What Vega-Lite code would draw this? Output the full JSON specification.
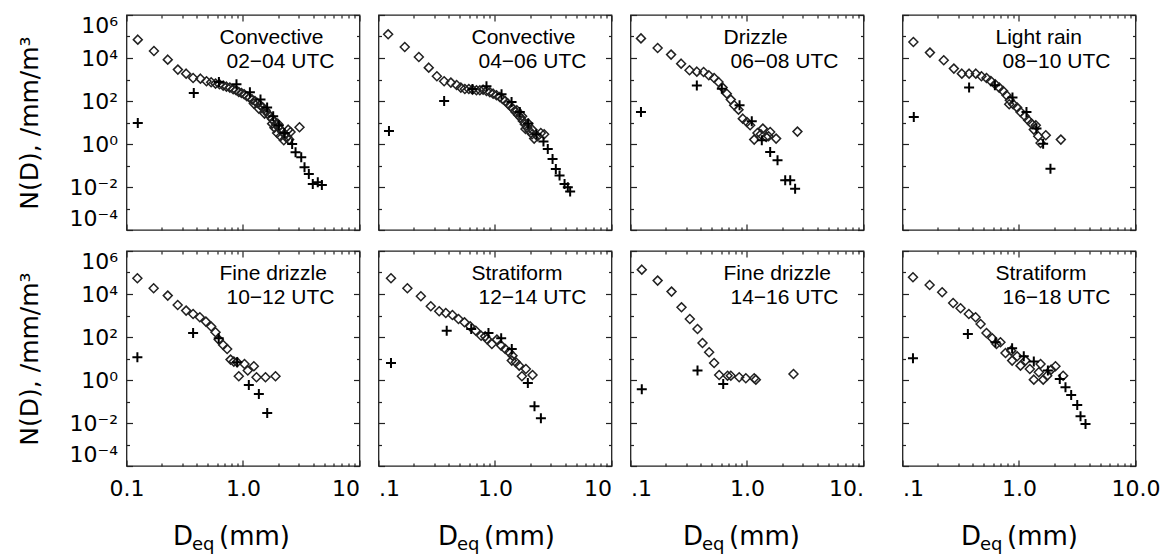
{
"$schema": "https://vega.github.io/schema/vega-lite/v6.json",
"padding": {"left": 15.5, "top": 13, "right": 2, "bottom": 2},
"config": {
  "font": "Liberation Sans",
  "view": {"stroke": "#222", "strokeWidth": 1.3},
  "axis": {"domain": false, "grid": false, "tickColor": "#222", "tickWidth": 1.2, "labelColor": "#000", "titleColor": "#000", "labelFont": "DejaVu Sans", "titleFont": "DejaVu Sans", "titleFontWeight": "normal", "labelOverlap": false}
},
"datasets": {"pts": [
{"panel":1,"type":"d","deq":0.125,"nd":71400},{"panel":1,"type":"d","deq":0.172,"nd":21200},{"panel":1,"type":"d","deq":0.226,"nd":8390},{"panel":1,"type":"d","deq":0.276,"nd":2880},{"panel":1,"type":"d","deq":0.325,"nd":1875},{"panel":1,"type":"d","deq":0.373,"nd":1178},{"panel":1,"type":"d","deq":0.431,"nd":1096},{"panel":1,"type":"d","deq":0.486,"nd":824},{"panel":1,"type":"d","deq":0.533,"nd":741},{"panel":1,"type":"d","deq":0.581,"nd":643},{"panel":1,"type":"d","deq":0.628,"nd":598},{"panel":1,"type":"d","deq":0.676,"nd":519},{"panel":1,"type":"d","deq":0.721,"nd":466},{"panel":1,"type":"d","deq":0.771,"nd":419},{"panel":1,"type":"d","deq":0.824,"nd":350},{"panel":1,"type":"d","deq":0.873,"nd":315},{"panel":1,"type":"d","deq":0.92,"nd":263},{"panel":1,"type":"d","deq":0.97,"nd":237},{"panel":1,"type":"d","deq":1.023,"nd":205},{"panel":1,"type":"d","deq":1.079,"nd":166},{"panel":1,"type":"d","deq":1.138,"nd":144},{"panel":1,"type":"d","deq":1.199,"nd":116},{"panel":1,"type":"d","deq":1.265,"nd":100},{"panel":1,"type":"d","deq":1.33,"nd":81},{"panel":1,"type":"d","deq":1.403,"nd":65.5},{"panel":1,"type":"d","deq":1.479,"nd":49.2},{"panel":1,"type":"d","deq":1.56,"nd":37},{"panel":1,"type":"d","deq":1.633,"nd":25.9},{"panel":1,"type":"d","deq":1.698,"nd":19.5},{"panel":1,"type":"d","deq":1.778,"nd":14.6},{"panel":1,"type":"d","deq":1.854,"nd":11},{"panel":1,"type":"d","deq":1.928,"nd":8.24},{"panel":1,"type":"d","deq":2.004,"nd":6.19},{"panel":1,"type":"d","deq":2.084,"nd":4.83},{"panel":1,"type":"d","deq":2.183,"nd":3.63},{"panel":1,"type":"d","deq":2.286,"nd":2.82},{"panel":1,"type":"d","deq":2.393,"nd":2.12},{"panel":1,"type":"d","deq":2.489,"nd":1.6},{"panel":1,"type":"d","deq":2.559,"nd":3.63},{"panel":1,"type":"d","deq":1.862,"nd":5.77},{"panel":1,"type":"d","deq":1.963,"nd":3.26},{"panel":1,"type":"d","deq":2.099,"nd":2.28},{"panel":1,"type":"d","deq":2.239,"nd":1.49},{"panel":1,"type":"d","deq":2.36,"nd":1.98},{"panel":1,"type":"d","deq":1.778,"nd":8.85},{"panel":1,"type":"d","deq":1.531,"nd":25.9},{"panel":1,"type":"d","deq":1.368,"nd":44.2},{"panel":1,"type":"d","deq":1.239,"nd":75.5},{"panel":1,"type":"d","deq":3.055,"nd":5.98},{"panel":1,"type":"d","deq":2.443,"nd":4.66},{"panel":1,"type":"d","deq":1.991,"nd":8.85},
{"panel":1,"type":"c","deq":0.125,"nd":9.51},{"panel":1,"type":"c","deq":0.378,"nd":237},{"panel":1,"type":"c","deq":0.621,"nd":769},{"panel":1,"type":"c","deq":0.879,"nd":598},{"panel":1,"type":"c","deq":1.146,"nd":254},{"panel":1,"type":"c","deq":1.413,"nd":116},{"panel":1,"type":"c","deq":1.611,"nd":49.2},{"panel":1,"type":"c","deq":1.816,"nd":19.5},{"panel":1,"type":"c","deq":2.032,"nd":7.41},{"panel":1,"type":"c","deq":2.27,"nd":3.26},{"panel":1,"type":"c","deq":2.642,"nd":1.0},{"panel":1,"type":"c","deq":2.825,"nd":0.411},{"panel":1,"type":"c","deq":3.162,"nd":0.24},{"panel":1,"type":"c","deq":3.373,"nd":0.0832},{"panel":1,"type":"c","deq":3.673,"nd":0.0403},{"panel":1,"type":"c","deq":3.972,"nd":0.0138},{"panel":1,"type":"c","deq":4.385,"nd":0.0166},{"panel":1,"type":"c","deq":4.753,"nd":0.0123},
{"panel":2,"type":"d","deq":0.121,"nd":126000},{"panel":2,"type":"d","deq":0.168,"nd":32700},{"panel":2,"type":"d","deq":0.222,"nd":11100},{"panel":2,"type":"d","deq":0.27,"nd":3565},{"panel":2,"type":"d","deq":0.317,"nd":1409},{"panel":2,"type":"d","deq":0.366,"nd":824},{"panel":2,"type":"d","deq":0.418,"nd":716},{"panel":2,"type":"d","deq":0.468,"nd":557},{"panel":2,"type":"d","deq":0.509,"nd":419},{"panel":2,"type":"d","deq":0.551,"nd":363},{"panel":2,"type":"d","deq":0.596,"nd":363},{"panel":2,"type":"d","deq":0.641,"nd":338},{"panel":2,"type":"d","deq":0.693,"nd":315},{"panel":2,"type":"d","deq":0.741,"nd":315},{"panel":2,"type":"d","deq":0.791,"nd":338},{"panel":2,"type":"d","deq":0.845,"nd":293},{"panel":2,"type":"d","deq":0.904,"nd":254},{"panel":2,"type":"d","deq":0.964,"nd":220},{"panel":2,"type":"d","deq":1.03,"nd":184},{"panel":2,"type":"d","deq":1.099,"nd":154},{"panel":2,"type":"d","deq":1.159,"nd":124},{"panel":2,"type":"d","deq":1.222,"nd":100},{"panel":2,"type":"d","deq":1.288,"nd":75.5},{"panel":2,"type":"d","deq":1.358,"nd":56.8},{"panel":2,"type":"d","deq":1.432,"nd":42.7},{"panel":2,"type":"d","deq":1.5,"nd":30.9},{"panel":2,"type":"d","deq":1.581,"nd":22.4},{"panel":2,"type":"d","deq":1.656,"nd":16.9},{"panel":2,"type":"d","deq":1.734,"nd":11.8},{"panel":2,"type":"d","deq":1.803,"nd":8.26},{"panel":2,"type":"d","deq":1.888,"nd":5.78},{"panel":2,"type":"d","deq":1.977,"nd":4.05},{"panel":2,"type":"d","deq":2.084,"nd":2.83},{"panel":2,"type":"d","deq":2.168,"nd":1.78},{"panel":2,"type":"d","deq":2.317,"nd":2.28},{"panel":2,"type":"d","deq":2.472,"nd":3.27},{"panel":2,"type":"d","deq":2.642,"nd":2.83},{"panel":2,"type":"d","deq":1.928,"nd":8.87},{"panel":2,"type":"d","deq":1.71,"nd":19.5},{"panel":2,"type":"d","deq":1.538,"nd":37},{"panel":2,"type":"d","deq":2.084,"nd":4.67},{"panel":2,"type":"d","deq":1.828,"nd":5.01},
{"panel":2,"type":"c","deq":0.123,"nd":4.05},{"panel":2,"type":"c","deq":0.366,"nd":100},{"panel":2,"type":"c","deq":0.845,"nd":483},{"panel":2,"type":"c","deq":0.641,"nd":363},{"panel":2,"type":"c","deq":1.138,"nd":205},{"panel":2,"type":"c","deq":1.387,"nd":90.2},{"panel":2,"type":"c","deq":1.633,"nd":30.9},{"panel":2,"type":"c","deq":1.928,"nd":8.87},{"panel":2,"type":"c","deq":2.27,"nd":2.83},{"panel":2,"type":"c","deq":2.606,"nd":1.29},{"panel":2,"type":"c","deq":2.838,"nd":0.589},{"panel":2,"type":"c","deq":3.119,"nd":0.2},{"panel":2,"type":"c","deq":3.327,"nd":0.0692},{"panel":2,"type":"c","deq":3.581,"nd":0.0339},{"panel":2,"type":"c","deq":3.954,"nd":0.0138},{"panel":2,"type":"c","deq":4.217,"nd":0.00977},{"panel":2,"type":"c","deq":4.416,"nd":0.00617},
{"panel":3,"type":"d","deq":0.123,"nd":81800},{"panel":3,"type":"d","deq":0.171,"nd":29300},{"panel":3,"type":"d","deq":0.223,"nd":14400},{"panel":3,"type":"d","deq":0.272,"nd":5470},{"panel":3,"type":"d","deq":0.321,"nd":2680},{"panel":3,"type":"d","deq":0.371,"nd":2320},{"panel":3,"type":"d","deq":0.424,"nd":2240},{"panel":3,"type":"d","deq":0.47,"nd":1570},{"panel":3,"type":"d","deq":0.522,"nd":1178},{"panel":3,"type":"d","deq":0.569,"nd":767},{"panel":3,"type":"d","deq":0.617,"nd":419},{"panel":3,"type":"d","deq":0.671,"nd":220},{"panel":3,"type":"d","deq":0.726,"nd":116},{"panel":3,"type":"d","deq":0.776,"nd":63.1},{"panel":3,"type":"d","deq":0.845,"nd":39.7},{"panel":3,"type":"d","deq":0.92,"nd":15.1},{"panel":3,"type":"d","deq":0.998,"nd":10.6},{"panel":3,"type":"d","deq":1.064,"nd":7.41},{"panel":3,"type":"d","deq":1.153,"nd":1.6},{"panel":3,"type":"d","deq":1.23,"nd":3.26},{"panel":3,"type":"d","deq":1.368,"nd":5.19},{"panel":3,"type":"d","deq":1.462,"nd":2.12},{"panel":3,"type":"d","deq":1.581,"nd":3.63},{"panel":3,"type":"d","deq":1.778,"nd":1.78},{"panel":3,"type":"d","deq":2.71,"nd":3.77},{"panel":3,"type":"d","deq":1.315,"nd":2.82},{"panel":3,"type":"d","deq":1.531,"nd":2.28},
{"panel":3,"type":"c","deq":0.123,"nd":30.9},{"panel":3,"type":"c","deq":0.371,"nd":519},{"panel":3,"type":"c","deq":0.608,"nd":376},{"panel":3,"type":"c","deq":0.863,"nd":63.1},{"panel":3,"type":"c","deq":1.099,"nd":11.4},{"panel":3,"type":"c","deq":1.34,"nd":1.49},{"panel":3,"type":"c","deq":1.581,"nd":0.426},{"panel":3,"type":"c","deq":1.828,"nd":0.175},{"panel":3,"type":"c","deq":2.128,"nd":0.0205},{"panel":3,"type":"c","deq":2.35,"nd":0.0205},{"panel":3,"type":"c","deq":2.588,"nd":0.00839},
{"panel":4,"type":"d","deq":0.124,"nd":55700},{"panel":4,"type":"d","deq":0.172,"nd":17800},{"panel":4,"type":"d","deq":0.226,"nd":7820},{"panel":4,"type":"d","deq":0.276,"nd":3210},{"panel":4,"type":"d","deq":0.323,"nd":1875},{"panel":4,"type":"d","deq":0.373,"nd":1875},{"panel":4,"type":"d","deq":0.426,"nd":1875},{"panel":4,"type":"d","deq":0.476,"nd":1409},{"panel":4,"type":"d","deq":0.526,"nd":1178},{"panel":4,"type":"d","deq":0.573,"nd":855},{"panel":4,"type":"d","deq":0.624,"nd":598},{"panel":4,"type":"d","deq":0.676,"nd":419},{"panel":4,"type":"d","deq":0.731,"nd":293},{"panel":4,"type":"d","deq":0.782,"nd":184},{"panel":4,"type":"d","deq":0.834,"nd":108},{"panel":4,"type":"d","deq":0.891,"nd":70.3},{"panel":4,"type":"d","deq":0.964,"nd":49.2},{"panel":4,"type":"d","deq":1.03,"nd":30.9},{"panel":4,"type":"d","deq":1.122,"nd":19.5},{"panel":4,"type":"d","deq":1.199,"nd":12.7},{"panel":4,"type":"d","deq":1.279,"nd":8.87},{"panel":4,"type":"d","deq":1.34,"nd":4.67},{"panel":4,"type":"d","deq":1.462,"nd":2.28},{"panel":4,"type":"d","deq":1.531,"nd":1.12},{"panel":4,"type":"d","deq":1.698,"nd":2.54},{"panel":4,"type":"d","deq":2.286,"nd":1.6},{"panel":4,"type":"d","deq":0.824,"nd":70.3},{"panel":4,"type":"d","deq":1.393,"nd":7.41},
{"panel":4,"type":"c","deq":0.125,"nd":18.1},{"panel":4,"type":"c","deq":0.373,"nd":419},{"panel":4,"type":"c","deq":0.621,"nd":538},{"panel":4,"type":"c","deq":0.879,"nd":144},{"panel":4,"type":"c","deq":1.159,"nd":30.9},{"panel":4,"type":"c","deq":1.413,"nd":5.19},{"panel":4,"type":"c","deq":1.611,"nd":1.04},{"panel":4,"type":"c","deq":1.862,"nd":0.0714},
{"panel":5,"type":"d","deq":0.124,"nd":53700},{"panel":5,"type":"d","deq":0.171,"nd":18400},{"panel":5,"type":"d","deq":0.226,"nd":8410},{"panel":5,"type":"d","deq":0.275,"nd":3080},{"panel":5,"type":"d","deq":0.325,"nd":1690},{"panel":5,"type":"d","deq":0.373,"nd":1175},{"panel":5,"type":"d","deq":0.426,"nd":824},{"panel":5,"type":"d","deq":0.48,"nd":520},{"panel":5,"type":"d","deq":0.533,"nd":305},{"panel":5,"type":"d","deq":0.581,"nd":166},{"panel":5,"type":"d","deq":0.619,"nd":75.7},{"panel":5,"type":"d","deq":0.676,"nd":42.5},{"panel":5,"type":"d","deq":0.731,"nd":27.7},{"panel":5,"type":"d","deq":0.782,"nd":8.89},{"panel":5,"type":"d","deq":0.834,"nd":7.18},{"panel":5,"type":"d","deq":0.891,"nd":6.65},{"panel":5,"type":"d","deq":0.92,"nd":1.49},{"panel":5,"type":"d","deq":1.03,"nd":5.55},{"panel":5,"type":"d","deq":1.099,"nd":2.74},{"panel":5,"type":"d","deq":1.239,"nd":4.34},{"panel":5,"type":"d","deq":1.306,"nd":1.34},{"panel":5,"type":"d","deq":1.56,"nd":1.34},{"panel":5,"type":"d","deq":1.901,"nd":1.49},
{"panel":5,"type":"c","deq":0.124,"nd":11.4},{"panel":5,"type":"c","deq":0.373,"nd":153},{"panel":5,"type":"c","deq":0.619,"nd":87.1},{"panel":5,"type":"c","deq":0.891,"nd":6.65},{"panel":5,"type":"c","deq":1.122,"nd":0.585},{"panel":5,"type":"c","deq":1.368,"nd":0.223},{"panel":5,"type":"c","deq":1.614,"nd":0.0292},
{"panel":6,"type":"d","deq":0.128,"nd":53700},{"panel":6,"type":"d","deq":0.177,"nd":18400},{"panel":6,"type":"d","deq":0.231,"nd":7820},{"panel":6,"type":"d","deq":0.281,"nd":2680},{"panel":6,"type":"d","deq":0.332,"nd":1570},{"panel":6,"type":"d","deq":0.378,"nd":1306},{"panel":6,"type":"d","deq":0.431,"nd":1054},{"panel":6,"type":"d","deq":0.486,"nd":687},{"panel":6,"type":"d","deq":0.547,"nd":481},{"panel":6,"type":"d","deq":0.612,"nd":313},{"panel":6,"type":"d","deq":0.684,"nd":197},{"panel":6,"type":"d","deq":0.76,"nd":115},{"panel":6,"type":"d","deq":0.851,"nd":80.7},{"panel":6,"type":"d","deq":0.94,"nd":47.2},{"panel":6,"type":"d","deq":1.038,"nd":75.7},{"panel":6,"type":"d","deq":1.13,"nd":39.8},{"panel":6,"type":"d","deq":1.225,"nd":27.7},{"panel":6,"type":"d","deq":1.324,"nd":19.4},{"panel":6,"type":"d","deq":1.413,"nd":13.6},{"panel":6,"type":"d","deq":1.51,"nd":6.65},{"panel":6,"type":"d","deq":1.614,"nd":4.65},{"panel":6,"type":"d","deq":1.702,"nd":1.49},{"panel":6,"type":"d","deq":1.841,"nd":3.25},{"panel":6,"type":"d","deq":2.099,"nd":1.71},{"panel":6,"type":"d","deq":0.824,"nd":107},{"panel":6,"type":"d","deq":1.393,"nd":7.98},
{"panel":6,"type":"c","deq":0.128,"nd":6.18},{"panel":6,"type":"c","deq":0.385,"nd":197},{"panel":6,"type":"c","deq":0.625,"nd":235},{"panel":6,"type":"c","deq":0.879,"nd":153},{"panel":6,"type":"c","deq":1.13,"nd":87.1},{"panel":6,"type":"c","deq":1.393,"nd":27.7},{"panel":6,"type":"c","deq":1.914,"nd":0.724},{"panel":6,"type":"c","deq":2.183,"nd":0.0597},{"panel":6,"type":"c","deq":2.477,"nd":0.0165},
{"panel":7,"type":"d","deq":0.125,"nd":136000},{"panel":7,"type":"d","deq":0.171,"nd":42000},{"panel":7,"type":"d","deq":0.225,"nd":12900},{"panel":7,"type":"d","deq":0.274,"nd":2400},{"panel":7,"type":"d","deq":0.323,"nd":687},{"panel":7,"type":"d","deq":0.376,"nd":235},{"panel":7,"type":"d","deq":0.415,"nd":52.6},{"panel":7,"type":"d","deq":0.473,"nd":19.4},{"panel":7,"type":"d","deq":0.522,"nd":6.18},{"panel":7,"type":"d","deq":0.577,"nd":1.71},{"panel":7,"type":"d","deq":0.681,"nd":1.59},{"panel":7,"type":"d","deq":0.726,"nd":1.59},{"panel":7,"type":"d","deq":0.857,"nd":1.34},{"panel":7,"type":"d","deq":0.977,"nd":1.2},{"panel":7,"type":"d","deq":1.153,"nd":1.2},{"panel":7,"type":"d","deq":1.191,"nd":1.04},{"panel":7,"type":"d","deq":2.506,"nd":1.91},
{"panel":7,"type":"c","deq":0.125,"nd":0.373},{"panel":7,"type":"c","deq":0.376,"nd":2.73},{"panel":7,"type":"c","deq":0.625,"nd":0.652},
{"panel":8,"type":"d","deq":0.123,"nd":59800},{"panel":8,"type":"d","deq":0.171,"nd":26200},{"panel":8,"type":"d","deq":0.219,"nd":12000},{"panel":8,"type":"d","deq":0.272,"nd":3810},{"panel":8,"type":"d","deq":0.315,"nd":2160},{"panel":8,"type":"d","deq":0.371,"nd":1175},{"panel":8,"type":"d","deq":0.424,"nd":824},{"panel":8,"type":"d","deq":0.468,"nd":403},{"panel":8,"type":"d","deq":0.526,"nd":153},{"panel":8,"type":"d","deq":0.589,"nd":87.1},{"panel":8,"type":"d","deq":0.641,"nd":47.2},{"panel":8,"type":"d","deq":0.693,"nd":56.8},{"panel":8,"type":"d","deq":0.766,"nd":18.1},{"panel":8,"type":"d","deq":0.857,"nd":23.2},{"panel":8,"type":"d","deq":0.964,"nd":12.6},{"panel":8,"type":"d","deq":1.03,"nd":4.65},{"panel":8,"type":"d","deq":1.138,"nd":7.98},{"panel":8,"type":"d","deq":1.239,"nd":3.25},{"panel":8,"type":"d","deq":1.34,"nd":1.04},{"panel":8,"type":"d","deq":1.479,"nd":2.28},{"panel":8,"type":"d","deq":1.614,"nd":1.04},{"panel":8,"type":"d","deq":1.746,"nd":1.59},{"panel":8,"type":"d","deq":1.888,"nd":3.03},{"panel":8,"type":"d","deq":2.056,"nd":4.34},{"panel":8,"type":"d","deq":2.393,"nd":1.59},{"panel":8,"type":"d","deq":1.531,"nd":5.55},{"panel":8,"type":"d","deq":0.873,"nd":7.98},
{"panel":8,"type":"c","deq":0.123,"nd":10.2},{"panel":8,"type":"c","deq":0.364,"nd":138},{"panel":8,"type":"c","deq":0.628,"nd":56.8},{"panel":8,"type":"c","deq":0.873,"nd":29.8},{"panel":8,"type":"c","deq":1.099,"nd":12.6},{"panel":8,"type":"c","deq":1.34,"nd":7.18},{"panel":8,"type":"c","deq":1.77,"nd":2.74},{"panel":8,"type":"c","deq":2.239,"nd":1.12},{"panel":8,"type":"c","deq":2.506,"nd":0.457},{"panel":8,"type":"c","deq":2.805,"nd":0.2},{"panel":8,"type":"c","deq":3.162,"nd":0.0687},{"panel":8,"type":"c","deq":3.373,"nd":0.0205},{"panel":8,"type":"c","deq":3.724,"nd":0.00897}
]},
"data": {"name": "pts"},
"columns": 4,
"align": "each",
"spacing": {"row": 17, "column": 15},
"concat": [
{"width":233,"height":215,"layer":[
 {"transform":[{"filter":"datum.panel == 1 && datum.type == 'd'"}],"mark":{"type":"point","shape":"M0,-1L1,0L0,1L-1,0Z","filled":false,"size":80,"strokeWidth":1.5,"color":"#222","opacity":1},
  "encoding":{"x":{"field":"deq","type":"quantitative","scale":{"type":"log","domain":[0.1,10],"nice":false},"axis":{"orient":"top","offset":-215,"values":[0.1,1,10],"tickSize":6,"labels":false,"title":null}},
   "y":{"field":"nd","type":"quantitative","scale":{"type":"log","domain":[0.0001,1000000],"nice":false},"axis":{"orient":"right","offset":-233,"values":[0.0001,0.01,1,100,10000,1000000],"tickSize":6,"labels":false,"title":null}}}},
 {"transform":[{"filter":"datum.panel == 1 && datum.type == 'c'"}],"mark":{"type":"point","shape":"M-1,0L1,0M0,-1L0,1","filled":false,"size":100,"strokeWidth":2,"color":"#000","opacity":1},
  "encoding":{"x":{"field":"deq","type":"quantitative","scale":{"type":"log","domain":[0.1,10],"nice":false},"axis":{"orient":"top","offset":-215,"values":[0.2,0.3,0.4,0.5,0.6,0.7,0.8,0.9,2,3,4,5,6,7,8,9],"tickSize":3,"labels":false,"title":null}},
   "y":{"field":"nd","type":"quantitative","scale":{"type":"log","domain":[0.0001,1000000],"nice":false},"axis":{"orient":"right","offset":-233,"values":[0.001,0.1,10,1000,100000],"tickSize":3,"labels":false,"title":null}}}},
 {"data":{"values":[{"line":1}]},"mark":{"type":"text","text":"Convective","align":"left","baseline":"alphabetic","fontSize":21,"color":"#000"},
  "encoding":{"x":{"datum":0.6286,"type":"quantitative","scale":{"type":"log","domain":[0.1,10],"nice":false},"axis":{"orient":"bottom","offset":-215,"values":[0.1,1,10],"tickSize":6,"labels":false,"title":null}},
   "y":{"datum":46800,"type":"quantitative","scale":{"type":"log","domain":[0.0001,1000000],"nice":false},"axis":{"orient":"left","offset":-233,"values":[0.0001,0.01,1,100,10000,1000000],"tickSize":6,"labels":false,"title":null}}}},
 {"data":{"values":[{"line":2}]},"mark":{"type":"text","text":"02−04 UTC","align":"left","baseline":"alphabetic","fontSize":21,"color":"#000"},
  "encoding":{"x":{"datum":0.7216,"type":"quantitative","scale":{"type":"log","domain":[0.1,10],"nice":false},"axis":{"orient":"bottom","offset":-215,"values":[0.2,0.3,0.4,0.5,0.6,0.7,0.8,0.9,2,3,4,5,6,7,8,9],"tickSize":3,"labels":false,"title":null}},
   "y":{"datum":3570,"type":"quantitative","scale":{"type":"log","domain":[0.0001,1000000],"nice":false},"axis":{"orient":"left","offset":-233,"values":[0.001,0.1,10,1000,100000],"tickSize":3,"labels":false,"title":null}}}},
 {"transform":[{"filter":"datum.panel == 0"}],"mark":{"type":"point","opacity":0},
  "encoding":{"x":{"field":"deq","type":"quantitative","scale":{"type":"log","domain":[0.1,10],"nice":false},"axis":null},
   "y":{"field":"nd","type":"quantitative","scale":{"type":"log","domain":[0.0001,1000000],"nice":false},"axis":{"orient":"left","values":[0.0001,0.01,1,100,10000,1000000],"ticks":false,"labelFlush":true,"labelExpr":"['10⁻⁴','','10⁻²','','10⁰','','10²','','10⁴','','10⁶'][round(log(datum.value)/LN10)+4]","labelFontSize":22,"labelPadding":9,"title":"N(D), /mm/m³","titleFontSize":25,"titlePadding":27}}}}
],"resolve":{"axis":{"x":"independent","y":"independent"}}},
{"width":233,"height":215,"layer":[
 {"transform":[{"filter":"datum.panel == 2 && datum.type == 'd'"}],"mark":{"type":"point","shape":"M0,-1L1,0L0,1L-1,0Z","filled":false,"size":80,"strokeWidth":1.5,"color":"#222","opacity":1},
  "encoding":{"x":{"field":"deq","type":"quantitative","scale":{"type":"log","domain":[0.1,10],"nice":false},"axis":{"orient":"top","offset":-215,"values":[0.1,1,10],"tickSize":6,"labels":false,"title":null}},
   "y":{"field":"nd","type":"quantitative","scale":{"type":"log","domain":[0.0001,1000000],"nice":false},"axis":{"orient":"right","offset":-233,"values":[0.0001,0.01,1,100,10000,1000000],"tickSize":6,"labels":false,"title":null}}}},
 {"transform":[{"filter":"datum.panel == 2 && datum.type == 'c'"}],"mark":{"type":"point","shape":"M-1,0L1,0M0,-1L0,1","filled":false,"size":100,"strokeWidth":2,"color":"#000","opacity":1},
  "encoding":{"x":{"field":"deq","type":"quantitative","scale":{"type":"log","domain":[0.1,10],"nice":false},"axis":{"orient":"top","offset":-215,"values":[0.2,0.3,0.4,0.5,0.6,0.7,0.8,0.9,2,3,4,5,6,7,8,9],"tickSize":3,"labels":false,"title":null}},
   "y":{"field":"nd","type":"quantitative","scale":{"type":"log","domain":[0.0001,1000000],"nice":false},"axis":{"orient":"right","offset":-233,"values":[0.001,0.1,10,1000,100000],"tickSize":3,"labels":false,"title":null}}}},
 {"data":{"values":[{"line":1}]},"mark":{"type":"text","text":"Convective","align":"left","baseline":"alphabetic","fontSize":21,"color":"#000"},
  "encoding":{"x":{"datum":0.6286,"type":"quantitative","scale":{"type":"log","domain":[0.1,10],"nice":false},"axis":{"orient":"bottom","offset":-215,"values":[0.1,1,10],"tickSize":6,"labels":false,"title":null}},
   "y":{"datum":46800,"type":"quantitative","scale":{"type":"log","domain":[0.0001,1000000],"nice":false},"axis":{"orient":"left","offset":-233,"values":[0.0001,0.01,1,100,10000,1000000],"tickSize":6,"labels":false,"title":null}}}},
 {"data":{"values":[{"line":2}]},"mark":{"type":"text","text":"04−06 UTC","align":"left","baseline":"alphabetic","fontSize":21,"color":"#000"},
  "encoding":{"x":{"datum":0.7216,"type":"quantitative","scale":{"type":"log","domain":[0.1,10],"nice":false},"axis":{"orient":"bottom","offset":-215,"values":[0.2,0.3,0.4,0.5,0.6,0.7,0.8,0.9,2,3,4,5,6,7,8,9],"tickSize":3,"labels":false,"title":null}},
   "y":{"datum":3570,"type":"quantitative","scale":{"type":"log","domain":[0.0001,1000000],"nice":false},"axis":{"orient":"left","offset":-233,"values":[0.001,0.1,10,1000,100000],"tickSize":3,"labels":false,"title":null}}}}
],"resolve":{"axis":{"x":"independent","y":"independent"}}},
{"width":233,"height":215,"layer":[
 {"transform":[{"filter":"datum.panel == 3 && datum.type == 'd'"}],"mark":{"type":"point","shape":"M0,-1L1,0L0,1L-1,0Z","filled":false,"size":80,"strokeWidth":1.5,"color":"#222","opacity":1},
  "encoding":{"x":{"field":"deq","type":"quantitative","scale":{"type":"log","domain":[0.1,10],"nice":false},"axis":{"orient":"top","offset":-215,"values":[0.1,1,10],"tickSize":6,"labels":false,"title":null}},
   "y":{"field":"nd","type":"quantitative","scale":{"type":"log","domain":[0.0001,1000000],"nice":false},"axis":{"orient":"right","offset":-233,"values":[0.0001,0.01,1,100,10000,1000000],"tickSize":6,"labels":false,"title":null}}}},
 {"transform":[{"filter":"datum.panel == 3 && datum.type == 'c'"}],"mark":{"type":"point","shape":"M-1,0L1,0M0,-1L0,1","filled":false,"size":100,"strokeWidth":2,"color":"#000","opacity":1},
  "encoding":{"x":{"field":"deq","type":"quantitative","scale":{"type":"log","domain":[0.1,10],"nice":false},"axis":{"orient":"top","offset":-215,"values":[0.2,0.3,0.4,0.5,0.6,0.7,0.8,0.9,2,3,4,5,6,7,8,9],"tickSize":3,"labels":false,"title":null}},
   "y":{"field":"nd","type":"quantitative","scale":{"type":"log","domain":[0.0001,1000000],"nice":false},"axis":{"orient":"right","offset":-233,"values":[0.001,0.1,10,1000,100000],"tickSize":3,"labels":false,"title":null}}}},
 {"data":{"values":[{"line":1}]},"mark":{"type":"text","text":"Drizzle","align":"left","baseline":"alphabetic","fontSize":21,"color":"#000"},
  "encoding":{"x":{"datum":0.6286,"type":"quantitative","scale":{"type":"log","domain":[0.1,10],"nice":false},"axis":{"orient":"bottom","offset":-215,"values":[0.1,1,10],"tickSize":6,"labels":false,"title":null}},
   "y":{"datum":46800,"type":"quantitative","scale":{"type":"log","domain":[0.0001,1000000],"nice":false},"axis":{"orient":"left","offset":-233,"values":[0.0001,0.01,1,100,10000,1000000],"tickSize":6,"labels":false,"title":null}}}},
 {"data":{"values":[{"line":2}]},"mark":{"type":"text","text":"06−08 UTC","align":"left","baseline":"alphabetic","fontSize":21,"color":"#000"},
  "encoding":{"x":{"datum":0.7216,"type":"quantitative","scale":{"type":"log","domain":[0.1,10],"nice":false},"axis":{"orient":"bottom","offset":-215,"values":[0.2,0.3,0.4,0.5,0.6,0.7,0.8,0.9,2,3,4,5,6,7,8,9],"tickSize":3,"labels":false,"title":null}},
   "y":{"datum":3570,"type":"quantitative","scale":{"type":"log","domain":[0.0001,1000000],"nice":false},"axis":{"orient":"left","offset":-233,"values":[0.001,0.1,10,1000,100000],"tickSize":3,"labels":false,"title":null}}}}
],"resolve":{"axis":{"x":"independent","y":"independent"}}},
{"width":233,"height":215,"layer":[
 {"transform":[{"filter":"datum.panel == 4 && datum.type == 'd'"}],"mark":{"type":"point","shape":"M0,-1L1,0L0,1L-1,0Z","filled":false,"size":80,"strokeWidth":1.5,"color":"#222","opacity":1},
  "encoding":{"x":{"field":"deq","type":"quantitative","scale":{"type":"log","domain":[0.1,10],"nice":false},"axis":{"orient":"top","offset":-215,"values":[0.1,1,10],"tickSize":6,"labels":false,"title":null}},
   "y":{"field":"nd","type":"quantitative","scale":{"type":"log","domain":[0.0001,1000000],"nice":false},"axis":{"orient":"right","offset":-233,"values":[0.0001,0.01,1,100,10000,1000000],"tickSize":6,"labels":false,"title":null}}}},
 {"transform":[{"filter":"datum.panel == 4 && datum.type == 'c'"}],"mark":{"type":"point","shape":"M-1,0L1,0M0,-1L0,1","filled":false,"size":100,"strokeWidth":2,"color":"#000","opacity":1},
  "encoding":{"x":{"field":"deq","type":"quantitative","scale":{"type":"log","domain":[0.1,10],"nice":false},"axis":{"orient":"top","offset":-215,"values":[0.2,0.3,0.4,0.5,0.6,0.7,0.8,0.9,2,3,4,5,6,7,8,9],"tickSize":3,"labels":false,"title":null}},
   "y":{"field":"nd","type":"quantitative","scale":{"type":"log","domain":[0.0001,1000000],"nice":false},"axis":{"orient":"right","offset":-233,"values":[0.001,0.1,10,1000,100000],"tickSize":3,"labels":false,"title":null}}}},
 {"data":{"values":[{"line":1}]},"mark":{"type":"text","text":"Light rain","align":"left","baseline":"alphabetic","fontSize":21,"color":"#000"},
  "encoding":{"x":{"datum":0.6286,"type":"quantitative","scale":{"type":"log","domain":[0.1,10],"nice":false},"axis":{"orient":"bottom","offset":-215,"values":[0.1,1,10],"tickSize":6,"labels":false,"title":null}},
   "y":{"datum":46800,"type":"quantitative","scale":{"type":"log","domain":[0.0001,1000000],"nice":false},"axis":{"orient":"left","offset":-233,"values":[0.0001,0.01,1,100,10000,1000000],"tickSize":6,"labels":false,"title":null}}}},
 {"data":{"values":[{"line":2}]},"mark":{"type":"text","text":"08−10 UTC","align":"left","baseline":"alphabetic","fontSize":21,"color":"#000"},
  "encoding":{"x":{"datum":0.7216,"type":"quantitative","scale":{"type":"log","domain":[0.1,10],"nice":false},"axis":{"orient":"bottom","offset":-215,"values":[0.2,0.3,0.4,0.5,0.6,0.7,0.8,0.9,2,3,4,5,6,7,8,9],"tickSize":3,"labels":false,"title":null}},
   "y":{"datum":3570,"type":"quantitative","scale":{"type":"log","domain":[0.0001,1000000],"nice":false},"axis":{"orient":"left","offset":-233,"values":[0.001,0.1,10,1000,100000],"tickSize":3,"labels":false,"title":null}}}},
 {"transform":[{"filter":"datum.panel == 0"}],"mark":{"type":"point","opacity":0},
  "encoding":{"x":{"field":"deq","type":"quantitative","scale":{"type":"log","domain":[0.1,10],"nice":false},"axis":null},
   "y":{"field":"nd","type":"quantitative","scale":{"type":"log","domain":[0.0001,1000000],"nice":false},"axis":{"orient":"left","values":[1],"ticks":false,"labels":false,"title":null,"minExtent":21}}}}
],"resolve":{"axis":{"x":"independent","y":"independent"}}},
{"width":233,"height":215,"layer":[
 {"transform":[{"filter":"datum.panel == 5 && datum.type == 'd'"}],"mark":{"type":"point","shape":"M0,-1L1,0L0,1L-1,0Z","filled":false,"size":80,"strokeWidth":1.5,"color":"#222","opacity":1},
  "encoding":{"x":{"field":"deq","type":"quantitative","scale":{"type":"log","domain":[0.1,10],"nice":false},"axis":{"orient":"top","offset":-215,"values":[0.1,1,10],"tickSize":6,"labels":false,"title":null}},
   "y":{"field":"nd","type":"quantitative","scale":{"type":"log","domain":[0.0001,1000000],"nice":false},"axis":{"orient":"right","offset":-233,"values":[0.0001,0.01,1,100,10000,1000000],"tickSize":6,"labels":false,"title":null}}}},
 {"transform":[{"filter":"datum.panel == 5 && datum.type == 'c'"}],"mark":{"type":"point","shape":"M-1,0L1,0M0,-1L0,1","filled":false,"size":100,"strokeWidth":2,"color":"#000","opacity":1},
  "encoding":{"x":{"field":"deq","type":"quantitative","scale":{"type":"log","domain":[0.1,10],"nice":false},"axis":{"orient":"top","offset":-215,"values":[0.2,0.3,0.4,0.5,0.6,0.7,0.8,0.9,2,3,4,5,6,7,8,9],"tickSize":3,"labels":false,"title":null}},
   "y":{"field":"nd","type":"quantitative","scale":{"type":"log","domain":[0.0001,1000000],"nice":false},"axis":{"orient":"right","offset":-233,"values":[0.001,0.1,10,1000,100000],"tickSize":3,"labels":false,"title":null}}}},
 {"data":{"values":[{"line":1}]},"mark":{"type":"text","text":"Fine drizzle","align":"left","baseline":"alphabetic","fontSize":21,"color":"#000"},
  "encoding":{"x":{"datum":0.6286,"type":"quantitative","scale":{"type":"log","domain":[0.1,10],"nice":false},"axis":{"orient":"bottom","offset":-215,"values":[0.1,1,10],"tickSize":6,"labels":false,"title":null}},
   "y":{"datum":46800,"type":"quantitative","scale":{"type":"log","domain":[0.0001,1000000],"nice":false},"axis":{"orient":"left","offset":-233,"values":[0.0001,0.01,1,100,10000,1000000],"tickSize":6,"labels":false,"title":null}}}},
 {"data":{"values":[{"line":2}]},"mark":{"type":"text","text":"10−12 UTC","align":"left","baseline":"alphabetic","fontSize":21,"color":"#000"},
  "encoding":{"x":{"datum":0.7216,"type":"quantitative","scale":{"type":"log","domain":[0.1,10],"nice":false},"axis":{"orient":"bottom","offset":-215,"values":[0.2,0.3,0.4,0.5,0.6,0.7,0.8,0.9,2,3,4,5,6,7,8,9],"tickSize":3,"labels":false,"title":null}},
   "y":{"datum":3570,"type":"quantitative","scale":{"type":"log","domain":[0.0001,1000000],"nice":false},"axis":{"orient":"left","offset":-233,"values":[0.001,0.1,10,1000,100000],"tickSize":3,"labels":false,"title":null}}}},
 {"transform":[{"filter":"datum.panel == 0"}],"mark":{"type":"point","opacity":0},
  "encoding":{"x":{"field":"deq","type":"quantitative","scale":{"type":"log","domain":[0.1,10],"nice":false},"axis":{"orient":"bottom","values":[0.1,1,10],"ticks":false,"labelExpr":"datum.value < 0.5 ? '0.1' : datum.value < 5 ? '1.0' : '10'","labelAlign":{"condition":{"test":"datum.value > 5","value":"right"},"value":"center"},"labelFontSize":22,"labelPadding":12,"title":"D\u2003(mm)","titleFontSize":26,"titleX":46,"titleY":78,"titleAlign":"left","titleBaseline":"alphabetic"}},
   "y":{"field":"nd","type":"quantitative","scale":{"type":"log","domain":[0.0001,1000000],"nice":false},"axis":{"orient":"left","values":[0.0001,0.01,1,100,10000,1000000],"ticks":false,"labelFlush":true,"labelExpr":"['10⁻⁴','','10⁻²','','10⁰','','10²','','10⁴','','10⁶'][round(log(datum.value)/LN10)+4]","labelFontSize":22,"labelPadding":9,"title":"N(D), /mm/m³","titleFontSize":25,"titlePadding":27}}}},
 {"transform":[{"filter":"datum.panel == 0"}],"mark":{"type":"point","opacity":0},
  "encoding":{"x":{"field":"deq","type":"quantitative","scale":{"type":"log","domain":[0.1,10],"nice":false},"axis":{"orient":"bottom","values":[1],"ticks":false,"labels":false,"title":"eq","titleFontSize":18,"titleX":65,"titleY":83,"titleAlign":"left","titleBaseline":"alphabetic"}},
   "y":{"field":"nd","type":"quantitative","scale":{"type":"log","domain":[0.0001,1000000],"nice":false},"axis":null}}}
],"resolve":{"axis":{"x":"independent","y":"independent"}}},
{"width":233,"height":215,"layer":[
 {"transform":[{"filter":"datum.panel == 6 && datum.type == 'd'"}],"mark":{"type":"point","shape":"M0,-1L1,0L0,1L-1,0Z","filled":false,"size":80,"strokeWidth":1.5,"color":"#222","opacity":1},
  "encoding":{"x":{"field":"deq","type":"quantitative","scale":{"type":"log","domain":[0.1,10],"nice":false},"axis":{"orient":"top","offset":-215,"values":[0.1,1,10],"tickSize":6,"labels":false,"title":null}},
   "y":{"field":"nd","type":"quantitative","scale":{"type":"log","domain":[0.0001,1000000],"nice":false},"axis":{"orient":"right","offset":-233,"values":[0.0001,0.01,1,100,10000,1000000],"tickSize":6,"labels":false,"title":null}}}},
 {"transform":[{"filter":"datum.panel == 6 && datum.type == 'c'"}],"mark":{"type":"point","shape":"M-1,0L1,0M0,-1L0,1","filled":false,"size":100,"strokeWidth":2,"color":"#000","opacity":1},
  "encoding":{"x":{"field":"deq","type":"quantitative","scale":{"type":"log","domain":[0.1,10],"nice":false},"axis":{"orient":"top","offset":-215,"values":[0.2,0.3,0.4,0.5,0.6,0.7,0.8,0.9,2,3,4,5,6,7,8,9],"tickSize":3,"labels":false,"title":null}},
   "y":{"field":"nd","type":"quantitative","scale":{"type":"log","domain":[0.0001,1000000],"nice":false},"axis":{"orient":"right","offset":-233,"values":[0.001,0.1,10,1000,100000],"tickSize":3,"labels":false,"title":null}}}},
 {"data":{"values":[{"line":1}]},"mark":{"type":"text","text":"Stratiform","align":"left","baseline":"alphabetic","fontSize":21,"color":"#000"},
  "encoding":{"x":{"datum":0.6286,"type":"quantitative","scale":{"type":"log","domain":[0.1,10],"nice":false},"axis":{"orient":"bottom","offset":-215,"values":[0.1,1,10],"tickSize":6,"labels":false,"title":null}},
   "y":{"datum":46800,"type":"quantitative","scale":{"type":"log","domain":[0.0001,1000000],"nice":false},"axis":{"orient":"left","offset":-233,"values":[0.0001,0.01,1,100,10000,1000000],"tickSize":6,"labels":false,"title":null}}}},
 {"data":{"values":[{"line":2}]},"mark":{"type":"text","text":"12−14 UTC","align":"left","baseline":"alphabetic","fontSize":21,"color":"#000"},
  "encoding":{"x":{"datum":0.7216,"type":"quantitative","scale":{"type":"log","domain":[0.1,10],"nice":false},"axis":{"orient":"bottom","offset":-215,"values":[0.2,0.3,0.4,0.5,0.6,0.7,0.8,0.9,2,3,4,5,6,7,8,9],"tickSize":3,"labels":false,"title":null}},
   "y":{"datum":3570,"type":"quantitative","scale":{"type":"log","domain":[0.0001,1000000],"nice":false},"axis":{"orient":"left","offset":-233,"values":[0.001,0.1,10,1000,100000],"tickSize":3,"labels":false,"title":null}}}},
 {"transform":[{"filter":"datum.panel == 0"}],"mark":{"type":"point","opacity":0},
  "encoding":{"x":{"field":"deq","type":"quantitative","scale":{"type":"log","domain":[0.1,10],"nice":false},"axis":{"orient":"bottom","values":[0.1,1,10],"ticks":false,"labelExpr":"datum.value < 0.5 ? '.1' : datum.value < 5 ? '1.0' : '10'","labelAlign":{"condition":[{"test":"datum.value < 0.5","value":"left"},{"test":"datum.value > 5","value":"right"}],"value":"center"},"labelFontSize":22,"labelPadding":12,"title":"D\u2003(mm)","titleFontSize":26,"titleX":59,"titleY":78,"titleAlign":"left","titleBaseline":"alphabetic"}},
   "y":{"field":"nd","type":"quantitative","scale":{"type":"log","domain":[0.0001,1000000],"nice":false},"axis":null}}},
 {"transform":[{"filter":"datum.panel == 0"}],"mark":{"type":"point","opacity":0},
  "encoding":{"x":{"field":"deq","type":"quantitative","scale":{"type":"log","domain":[0.1,10],"nice":false},"axis":{"orient":"bottom","values":[1],"ticks":false,"labels":false,"title":"eq","titleFontSize":18,"titleX":78,"titleY":83,"titleAlign":"left","titleBaseline":"alphabetic"}},
   "y":{"field":"nd","type":"quantitative","scale":{"type":"log","domain":[0.0001,1000000],"nice":false},"axis":null}}}
],"resolve":{"axis":{"x":"independent","y":"independent"}}},
{"width":233,"height":215,"layer":[
 {"transform":[{"filter":"datum.panel == 7 && datum.type == 'd'"}],"mark":{"type":"point","shape":"M0,-1L1,0L0,1L-1,0Z","filled":false,"size":80,"strokeWidth":1.5,"color":"#222","opacity":1},
  "encoding":{"x":{"field":"deq","type":"quantitative","scale":{"type":"log","domain":[0.1,10],"nice":false},"axis":{"orient":"top","offset":-215,"values":[0.1,1,10],"tickSize":6,"labels":false,"title":null}},
   "y":{"field":"nd","type":"quantitative","scale":{"type":"log","domain":[0.0001,1000000],"nice":false},"axis":{"orient":"right","offset":-233,"values":[0.0001,0.01,1,100,10000,1000000],"tickSize":6,"labels":false,"title":null}}}},
 {"transform":[{"filter":"datum.panel == 7 && datum.type == 'c'"}],"mark":{"type":"point","shape":"M-1,0L1,0M0,-1L0,1","filled":false,"size":100,"strokeWidth":2,"color":"#000","opacity":1},
  "encoding":{"x":{"field":"deq","type":"quantitative","scale":{"type":"log","domain":[0.1,10],"nice":false},"axis":{"orient":"top","offset":-215,"values":[0.2,0.3,0.4,0.5,0.6,0.7,0.8,0.9,2,3,4,5,6,7,8,9],"tickSize":3,"labels":false,"title":null}},
   "y":{"field":"nd","type":"quantitative","scale":{"type":"log","domain":[0.0001,1000000],"nice":false},"axis":{"orient":"right","offset":-233,"values":[0.001,0.1,10,1000,100000],"tickSize":3,"labels":false,"title":null}}}},
 {"data":{"values":[{"line":1}]},"mark":{"type":"text","text":"Fine drizzle","align":"left","baseline":"alphabetic","fontSize":21,"color":"#000"},
  "encoding":{"x":{"datum":0.6286,"type":"quantitative","scale":{"type":"log","domain":[0.1,10],"nice":false},"axis":{"orient":"bottom","offset":-215,"values":[0.1,1,10],"tickSize":6,"labels":false,"title":null}},
   "y":{"datum":46800,"type":"quantitative","scale":{"type":"log","domain":[0.0001,1000000],"nice":false},"axis":{"orient":"left","offset":-233,"values":[0.0001,0.01,1,100,10000,1000000],"tickSize":6,"labels":false,"title":null}}}},
 {"data":{"values":[{"line":2}]},"mark":{"type":"text","text":"14−16 UTC","align":"left","baseline":"alphabetic","fontSize":21,"color":"#000"},
  "encoding":{"x":{"datum":0.7216,"type":"quantitative","scale":{"type":"log","domain":[0.1,10],"nice":false},"axis":{"orient":"bottom","offset":-215,"values":[0.2,0.3,0.4,0.5,0.6,0.7,0.8,0.9,2,3,4,5,6,7,8,9],"tickSize":3,"labels":false,"title":null}},
   "y":{"datum":3570,"type":"quantitative","scale":{"type":"log","domain":[0.0001,1000000],"nice":false},"axis":{"orient":"left","offset":-233,"values":[0.001,0.1,10,1000,100000],"tickSize":3,"labels":false,"title":null}}}},
 {"transform":[{"filter":"datum.panel == 0"}],"mark":{"type":"point","opacity":0},
  "encoding":{"x":{"field":"deq","type":"quantitative","scale":{"type":"log","domain":[0.1,10],"nice":false},"axis":{"orient":"bottom","values":[0.1,1,10],"ticks":false,"labelExpr":"datum.value < 0.5 ? '.1' : datum.value < 5 ? '1.0' : '10.'","labelAlign":{"condition":[{"test":"datum.value < 0.5","value":"left"},{"test":"datum.value > 5","value":"right"}],"value":"center"},"labelFontSize":22,"labelPadding":12,"title":"D\u2003(mm)","titleFontSize":26,"titleX":52,"titleY":78,"titleAlign":"left","titleBaseline":"alphabetic"}},
   "y":{"field":"nd","type":"quantitative","scale":{"type":"log","domain":[0.0001,1000000],"nice":false},"axis":null}}},
 {"transform":[{"filter":"datum.panel == 0"}],"mark":{"type":"point","opacity":0},
  "encoding":{"x":{"field":"deq","type":"quantitative","scale":{"type":"log","domain":[0.1,10],"nice":false},"axis":{"orient":"bottom","values":[1],"ticks":false,"labels":false,"title":"eq","titleFontSize":18,"titleX":71,"titleY":83,"titleAlign":"left","titleBaseline":"alphabetic"}},
   "y":{"field":"nd","type":"quantitative","scale":{"type":"log","domain":[0.0001,1000000],"nice":false},"axis":null}}}
],"resolve":{"axis":{"x":"independent","y":"independent"}}},
{"width":233,"height":215,"layer":[
 {"transform":[{"filter":"datum.panel == 8 && datum.type == 'd'"}],"mark":{"type":"point","shape":"M0,-1L1,0L0,1L-1,0Z","filled":false,"size":80,"strokeWidth":1.5,"color":"#222","opacity":1},
  "encoding":{"x":{"field":"deq","type":"quantitative","scale":{"type":"log","domain":[0.1,10],"nice":false},"axis":{"orient":"top","offset":-215,"values":[0.1,1,10],"tickSize":6,"labels":false,"title":null}},
   "y":{"field":"nd","type":"quantitative","scale":{"type":"log","domain":[0.0001,1000000],"nice":false},"axis":{"orient":"right","offset":-233,"values":[0.0001,0.01,1,100,10000,1000000],"tickSize":6,"labels":false,"title":null}}}},
 {"transform":[{"filter":"datum.panel == 8 && datum.type == 'c'"}],"mark":{"type":"point","shape":"M-1,0L1,0M0,-1L0,1","filled":false,"size":100,"strokeWidth":2,"color":"#000","opacity":1},
  "encoding":{"x":{"field":"deq","type":"quantitative","scale":{"type":"log","domain":[0.1,10],"nice":false},"axis":{"orient":"top","offset":-215,"values":[0.2,0.3,0.4,0.5,0.6,0.7,0.8,0.9,2,3,4,5,6,7,8,9],"tickSize":3,"labels":false,"title":null}},
   "y":{"field":"nd","type":"quantitative","scale":{"type":"log","domain":[0.0001,1000000],"nice":false},"axis":{"orient":"right","offset":-233,"values":[0.001,0.1,10,1000,100000],"tickSize":3,"labels":false,"title":null}}}},
 {"data":{"values":[{"line":1}]},"mark":{"type":"text","text":"Stratiform","align":"left","baseline":"alphabetic","fontSize":21,"color":"#000"},
  "encoding":{"x":{"datum":0.6286,"type":"quantitative","scale":{"type":"log","domain":[0.1,10],"nice":false},"axis":{"orient":"bottom","offset":-215,"values":[0.1,1,10],"tickSize":6,"labels":false,"title":null}},
   "y":{"datum":46800,"type":"quantitative","scale":{"type":"log","domain":[0.0001,1000000],"nice":false},"axis":{"orient":"left","offset":-233,"values":[0.0001,0.01,1,100,10000,1000000],"tickSize":6,"labels":false,"title":null}}}},
 {"data":{"values":[{"line":2}]},"mark":{"type":"text","text":"16−18 UTC","align":"left","baseline":"alphabetic","fontSize":21,"color":"#000"},
  "encoding":{"x":{"datum":0.7216,"type":"quantitative","scale":{"type":"log","domain":[0.1,10],"nice":false},"axis":{"orient":"bottom","offset":-215,"values":[0.2,0.3,0.4,0.5,0.6,0.7,0.8,0.9,2,3,4,5,6,7,8,9],"tickSize":3,"labels":false,"title":null}},
   "y":{"datum":3570,"type":"quantitative","scale":{"type":"log","domain":[0.0001,1000000],"nice":false},"axis":{"orient":"left","offset":-233,"values":[0.001,0.1,10,1000,100000],"tickSize":3,"labels":false,"title":null}}}},
 {"transform":[{"filter":"datum.panel == 0"}],"mark":{"type":"point","opacity":0},
  "encoding":{"x":{"field":"deq","type":"quantitative","scale":{"type":"log","domain":[0.1,10],"nice":false},"axis":{"orient":"bottom","values":[0.1,1,10],"ticks":false,"labelExpr":"datum.value < 0.5 ? '.1' : datum.value < 5 ? '1.0' : '10.0'","labelAlign":{"condition":{"test":"datum.value < 0.5","value":"left"},"value":"center"},"labelFontSize":22,"labelPadding":12,"title":"D\u2003(mm)","titleFontSize":26,"titleX":58,"titleY":78,"titleAlign":"left","titleBaseline":"alphabetic"}},
   "y":{"field":"nd","type":"quantitative","scale":{"type":"log","domain":[0.0001,1000000],"nice":false},"axis":{"orient":"left","values":[1],"ticks":false,"labels":false,"title":null,"minExtent":21}}}},
 {"transform":[{"filter":"datum.panel == 0"}],"mark":{"type":"point","opacity":0},
  "encoding":{"x":{"field":"deq","type":"quantitative","scale":{"type":"log","domain":[0.1,10],"nice":false},"axis":{"orient":"bottom","values":[1],"ticks":false,"labels":false,"title":"eq","titleFontSize":18,"titleX":77,"titleY":83,"titleAlign":"left","titleBaseline":"alphabetic"}},
   "y":{"field":"nd","type":"quantitative","scale":{"type":"log","domain":[0.0001,1000000],"nice":false},"axis":null}}}
],"resolve":{"axis":{"x":"independent","y":"independent"}}}
]
}
